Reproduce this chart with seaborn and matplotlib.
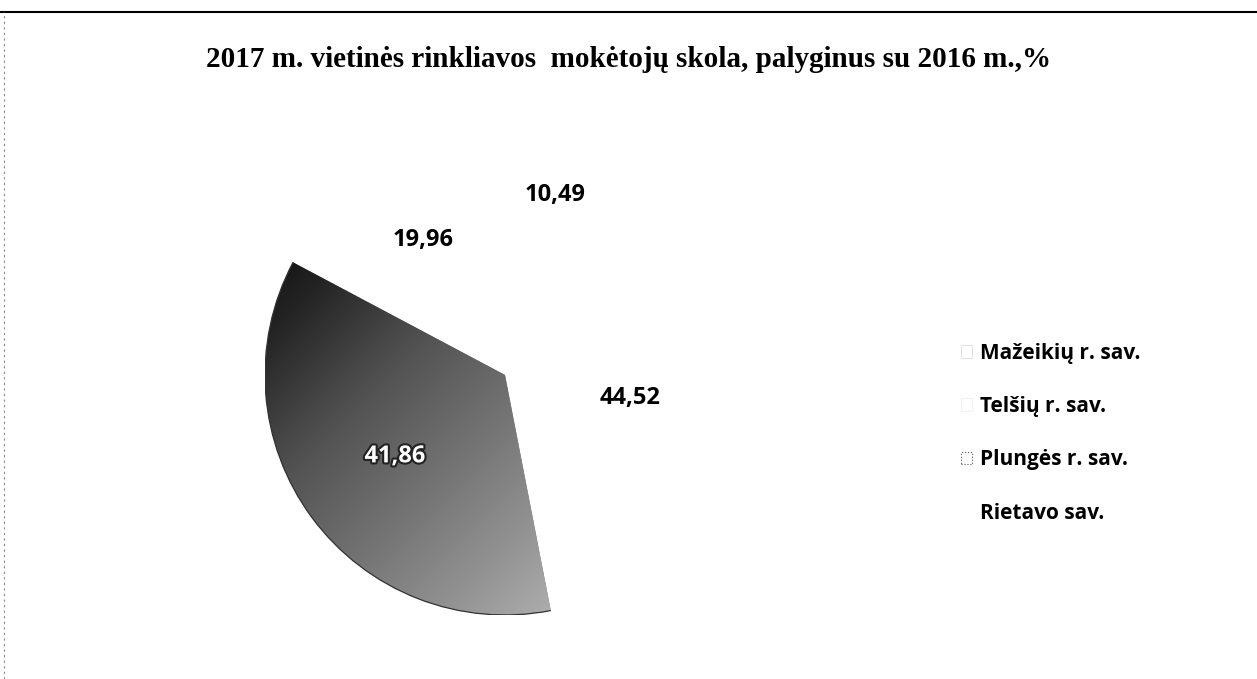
import numpy as np
import matplotlib.pyplot as plt
import matplotlib.patheffects as pe
from matplotlib.patches import Patch, Arc
from matplotlib.lines import Line2D
import seaborn as sns

title = "2017 m. vietinės rinkliavos  mokėtojų skola, palyginus su 2016 m.,%"
regions = ["Mažeikių r. sav.", "Telšių r. sav.", "Plungės r. sav.", "Rietavo sav."]
values = [44.52, 10.49, 19.96, 41.86]
value_labels = ["44,52", "10,49", "19,96", "41,86"]

sns.set_theme(style="white")
plt.rcParams["font.family"] = ["Open Sans", "DejaVu Sans"]
plt.rcParams["text.color"] = "black"

fig = plt.figure(figsize=(12.57, 6.79), dpi=100)
ax = fig.add_axes([0.2108, 0.0943, 0.3819, 0.7069])

wedges, _ = ax.pie(values, startangle=-79, counterclock=True,
                   colors=["white", "white", "white", "#777777"],
                   wedgeprops=dict(linewidth=0))
ax.set_xlim(-1, 1)
ax.set_ylim(-1, 1)
ax.axis("off")

# stippled grey fill of the Rietavo slice, darker to the upper left
gx, gy = np.meshgrid(np.linspace(-1, 1, 300), np.linspace(1, -1, 300))
grad = 0.5 * gx - 0.5 * gy
img = ax.imshow(grad, extent=(-1, 1, -1, 1), cmap=sns.color_palette("Greys_r", as_cmap=True),
                vmin=-0.9, vmax=1.7, zorder=2)
img.set_clip_path(wedges[3])
wedges[3].set_zorder(1)
ax.add_patch(Arc((0, 0), 2, 2, theta1=wedges[3].theta1, theta2=wedges[3].theta2,
                 edgecolor="#333333", linewidth=0.9, zorder=3))

label_r = [0.53, 0.78, 0.66, 0.57]
for w, lab, r in zip(wedges, value_labels, label_r):
    ang = np.deg2rad((w.theta1 + w.theta2) / 2)
    t = ax.text(r * np.cos(ang), r * np.sin(ang), lab, ha="center", va="center",
                fontsize=17, fontweight="bold", color="black", zorder=5)
    if lab == "41,86":
        t.set_color("white")
        t.set_path_effects([pe.withStroke(linewidth=3, foreground="#222222")])

fig.text(0.5, 0.913, title, ha="center", va="center", fontsize=21, fontweight="bold",
         color="black", family=["Liberation Serif", "DejaVu Serif"])

handles = [Patch(facecolor="white", edgecolor="#dddddd", linewidth=0.6),
           Patch(facecolor="white", edgecolor="#eeeeee", linewidth=0.6),
           Patch(facecolor="white", edgecolor="#555555", linewidth=0.8, linestyle=":"),
           Patch(facecolor="white", edgecolor="white", linewidth=0)]
leg = fig.legend(handles, regions, loc="center left", bbox_to_anchor=(0.7495, 0.362),
                 frameon=False, handlelength=0.55, handleheight=0.55, handletextpad=0.35,
                 labelspacing=1.55, labelcolor="black",
                 prop=dict(size=15, weight="bold", family="Open Sans"))

# scanned page frame
fig.add_artist(Line2D([0, 1], [0.982, 0.982], color="black", linewidth=1.5))
fig.add_artist(Line2D([0.003, 0.003], [0, 0.982], color="#888888", linewidth=0.8, linestyle=(0, (2, 3))))

fig.savefig("out.png", dpi=100, facecolor="white")
